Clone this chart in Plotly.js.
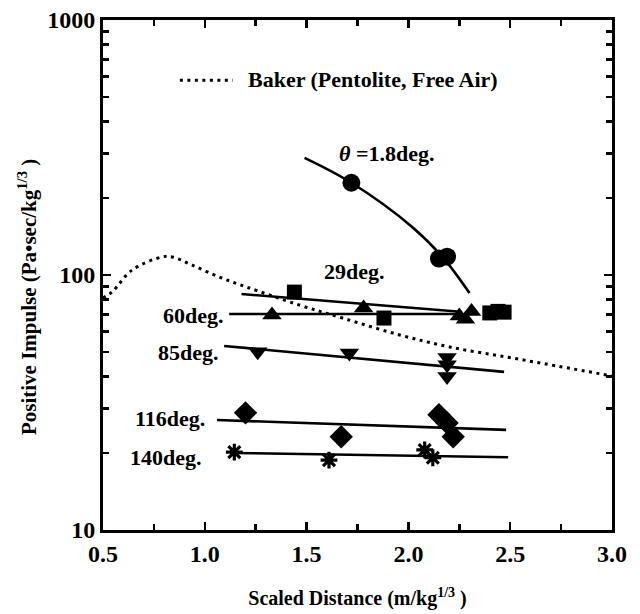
<!DOCTYPE html>
<html>
<head>
<meta charset="utf-8">
<script src="https://cdn.plot.ly/plotly-3.0.1.min.js"></script>
<style>html,body{margin:0;padding:0;background:#fff;}#chart{width:640px;height:614px;}</style>
</head>
<body>
<div id="chart"></div>
<script>
// Baker (Pentolite, Free Air) reference curve
const bakerX = [0.5, 0.544, 0.643, 0.79, 0.84, 0.938, 1.071, 1.204, 1.465, 1.676, 1.957, 2.203, 2.533, 3.0];
const bakerY = [81.3, 85.7, 104.6, 117.7, 117.7, 109.4, 98.2, 89.8, 76.2, 67.8, 58.2, 52.2, 46.9, 40.2];

// measured points
const d18X = [1.72, 2.15, 2.19];
const d18Y = [230, 116, 118];
const d29X = [1.44, 1.88, 2.40, 2.44, 2.47];
const d29Y = [85.7, 67.8, 71, 72, 71.5];
const d60X = [1.33, 1.78, 2.25, 2.28, 2.31];
const d60Y = [69.7, 74.3, 69, 67, 72];
const d85X = [1.26, 1.71, 2.19, 2.19, 2.19];
const d85Y = [50, 49.4, 47.5, 44.5, 40];
const d116X = [1.20, 1.67, 2.15, 2.19, 2.22];
const d116Y = [28.8, 23.2, 28.3, 26.3, 23.2];
const d140X = [1.145, 1.61, 2.08, 2.12];
const d140Y = [20.2, 18.8, 20.6, 19.2];

// fitted lines
const f18X = [1.49, 1.72, 2.02, 2.17, 2.30];
const f18Y = [288, 230, 154, 117, 85];
const f29X = [1.18, 2.24];
const f29Y = [84.2, 71.9];
const f60X = [1.12, 2.24];
const f60Y = [70.3, 70.3];
const f85X = [1.095, 2.47];
const f85Y = [52.7, 41.7];
const f116X = [1.06, 2.48];
const f116Y = [27.0, 24.7];
const f140X = [1.135, 2.49];
const f140Y = [20.05, 19.3];

const xTicks = [0.5, 1.0, 1.5, 2.0, 2.5, 3.0];
const yTicks = [10, 100, 1000];
const yTickText = ['10', '100', '1000'];

const FONT = 'Liberation Serif, Times New Roman, serif';
const K = '#000';
const DOTS = '3px,4.5px';

function fit(x, y, shape) {
  return {x: x, y: y, type: 'scatter', mode: 'lines', showlegend: false, hoverinfo: 'skip',
          line: {color: K, width: 2.6, shape: shape || 'linear', smoothing: 1}};
}
function pts(x, y, symbol, size, extra) {
  const m = {color: K, size: size, symbol: symbol, line: {color: K, width: 0}};
  if (extra) Object.assign(m, extra);
  return {x: x, y: y, type: 'scatter', mode: 'markers', showlegend: false, marker: m};
}

const traces = [
  {x: bakerX, y: bakerY, type: 'scatter', mode: 'lines', name: 'Baker (Pentolite, Free Air)', showlegend: false,
   line: {color: K, width: 3, dash: DOTS, shape: 'spline', smoothing: 1}},
  fit(f18X, f18Y, 'spline'), fit(f29X, f29Y), fit(f60X, f60Y), fit(f85X, f85Y), fit(f116X, f116Y), fit(f140X, f140Y),
  pts(d18X, d18Y, 'circle', 18),
  pts(d29X, d29Y, 'square', 15),
  pts(d60X, d60Y, 'triangle-up', 17),
  pts(d85X, d85Y, 'triangle-down', 17),
  pts(d116X, d116Y, 'diamond', 18),
  pts(d140X, d140Y, 'asterisk-open', 14, {line: {color: K, width: 3.2}})
];

function lab(text, x, ylog, anchor) {
  return {text: text, x: x, y: ylog, xref: 'x', yref: 'y', showarrow: false, xanchor: anchor || 'center',
          yanchor: 'middle', font: {family: FONT, size: 22, color: K, weight: 'bold'}};
}

const layout = {
  width: 640, height: 614,
  margin: {l: 103, r: 28, t: 20, b: 84},
  paper_bgcolor: '#fff', plot_bgcolor: '#fff',
  font: {family: FONT, color: K, size: 22, weight: 'bold'},
  showlegend: false,
  xaxis: {
    range: [0.5, 3.0], tickvals: xTicks, tickformat: '.1f',
    ticks: 'inside', ticklen: 8, tickwidth: 2.5, tickcolor: K,
    minor: {ticks: 'inside', dtick: 0.25, ticklen: 6, tickwidth: 2.5, tickcolor: K, showgrid: false},
    showline: true, linewidth: 3, linecolor: K, mirror: 'allticks', showgrid: false, zeroline: false,
    tickfont: {family: FONT, size: 24, color: K, weight: 'bold'},
    title: {text: 'Scaled Distance (m/kg<sup>1/3</sup> )', standoff: 26,
            font: {family: FONT, size: 20, color: K, weight: 'bold'}}
  },
  yaxis: {
    type: 'log', range: [1, 3], tickvals: yTicks, ticktext: yTickText,
    ticks: 'inside', ticklen: 8, tickwidth: 2.5, tickcolor: K,
    minor: {ticks: 'inside', dtick: 'D1', ticklen: 6, tickwidth: 2.5, tickcolor: K, showgrid: false},
    showline: true, linewidth: 3, linecolor: K, mirror: 'allticks', showgrid: false, zeroline: false,
    tickfont: {family: FONT, size: 24, color: K, weight: 'bold'},
    title: {text: ''}
  },
  shapes: [
    {type: 'line', xref: 'paper', yref: 'paper', x0: 0.151, x1: 0.255, y0: 0.882, y1: 0.882,
     line: {color: K, width: 3, dash: DOTS}}
  ],
  annotations: [
    {text: 'Positive Impulse (Pa\u2022sec/kg<sup>1/3</sup> )', xref: 'paper', yref: 'paper',
     x: -0.147, y: 0.457, textangle: -90, showarrow: false, xanchor: 'center', yanchor: 'middle',
     font: {family: FONT, size: 21, color: K, weight: 'bold'}},
    lab('Baker (Pentolite, Free Air)', 1.2, 2.765, 'left'),
    lab('<i>\u03B8</i> =1.8deg.', 1.893, 2.478),
    lab('29deg.', 1.735, 2.012),
    lab('60deg.', 1.105, 1.843, 'right'),
    lab('85deg.', 1.081, 1.698, 'right'),
    lab('116deg.', 1.012, 1.439, 'right'),
    lab('140deg.', 0.997, 1.286, 'right')
  ]
};

Plotly.newPlot('chart', traces, layout, {staticPlot: true, displayModeBar: false});
</script>
</body>
</html>
